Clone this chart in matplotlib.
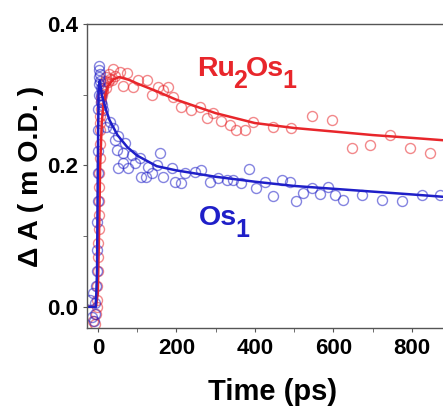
import numpy as np
import matplotlib.pyplot as plt

plt.rcParams['font.family'] = ['Liberation Sans', 'DejaVu Sans']
plt.rcParams['font.weight'] = 'bold'
plt.rcParams['axes.labelweight'] = 'bold'

# Ru2Os1 transient absorption (time in ps, dA in mOD)
ru_t = [-12, -8, -5, -3, -2, -1, 0, 1, 1.5, 2, 2.5, 3, 3.5, 4, 4.5, 5, 5.5, 6,
        6.5, 7, 8, 9, 10, 12, 14, 16, 18, 20, 22, 25, 28, 32,
        36, 38, 45, 56, 64, 74, 89, 102, 125, 137, 153, 166, 179, 191, 213,
        238, 260, 277, 293, 315, 336, 353, 374, 396, 446, 493, 545, 596,
        647, 693, 744, 795, 846]
ru_v = [-0.02, -0.025, -0.01, 0.0, 0.01, 0.03, 0.05, 0.07, 0.09, 0.11, 0.13,
        0.15, 0.17, 0.19, 0.21, 0.23, 0.25, 0.26, 0.27, 0.28, 0.29, 0.295,
        0.30, 0.305, 0.31, 0.315, 0.32, 0.31, 0.325, 0.318, 0.33, 0.322,
        0.321, 0.337, 0.327, 0.332, 0.313, 0.331, 0.311, 0.321, 0.321, 0.300,
        0.311, 0.307, 0.311, 0.297, 0.283, 0.279, 0.283, 0.267, 0.274, 0.263,
        0.257, 0.250, 0.250, 0.262, 0.255, 0.253, 0.270, 0.265, 0.225, 0.229,
        0.243, 0.225, 0.218]

# Os1 transient absorption
os_t = [-20, -15, -12, -10, -8, -6, -4, -3, -2, -1, -0.5, 0, 0.5, 1, 1.5, 2,
        2.5, 3, 3.5, 4, 5, 6, 7, 8, 9, 10, 13, 22, 30, 38, 43, 48, 51, 51, 64,
        64, 69, 77, 86, 94, 107, 111, 124, 128, 137, 150, 158, 166, 188, 196,
        213, 222, 247, 264, 285, 306, 328, 345, 366, 386, 404, 425, 447, 468,
        489, 506, 523, 545, 566, 587, 604, 625, 672, 723, 774, 825, 871]
os_v = [0.01, -0.015, 0.02, -0.02, 0.005, -0.01, 0.03, 0.05, 0.08, 0.12, 0.15,
        0.19, 0.22, 0.25, 0.28, 0.30, 0.315, 0.325, 0.335, 0.34, 0.33, 0.32,
        0.31, 0.30, 0.29, 0.285, 0.279, 0.255, 0.262, 0.253, 0.236, 0.222,
        0.241, 0.196, 0.218, 0.204, 0.232, 0.196, 0.215, 0.204, 0.211, 0.184,
        0.184, 0.198, 0.189, 0.201, 0.218, 0.184, 0.196, 0.177, 0.175, 0.189,
        0.191, 0.194, 0.177, 0.182, 0.180, 0.180, 0.175, 0.195, 0.168, 0.177,
        0.157, 0.180, 0.177, 0.150, 0.161, 0.168, 0.160, 0.170, 0.158, 0.151,
        0.158, 0.151, 0.149, 0.158, 0.158]

# Fitted kinetics
ru_fit_t = [-30, -5, 0, 3, 6, 10, 15, 25, 40, 55, 80, 100, 150, 200, 300, 400,
            500, 600, 700, 800, 920]
ru_fit_v = [0, 0, 0.02, 0.10, 0.20, 0.26, 0.29, 0.312, 0.322, 0.325, 0.321,
            0.316, 0.305, 0.293, 0.274, 0.260, 0.253, 0.248, 0.243, 0.239, 0.234]
os_fit_t = [-30, -5, -2, 0, 2, 5, 10, 20, 30, 50, 75, 100, 150, 200, 300, 400,
            500, 600, 700, 800, 920]
os_fit_v = [0, 0, 0.05, 0.20, 0.31, 0.32, 0.30, 0.28, 0.264, 0.243, 0.226,
            0.214, 0.199, 0.193, 0.184, 0.177, 0.171, 0.167, 0.163, 0.159, 0.154]

red = '#e8262b'
blue = '#1f1fc8'


def formula(ax, x, y, parts, color, size=20.5, sub_size=18):
    # chain text pieces; (text, is_subscript)
    first = ax.text(x, y, parts[0][0], color=color, fontsize=size)
    prev = first
    for s, sub in parts[1:]:
        prev = ax.annotate(s, xy=(1, 0), xycoords=(prev, first),
                           xytext=(-1, -8 if sub else 0),
                           textcoords='offset points', va='bottom',
                           color=color, fontsize=sub_size if sub else size)
    return first


fig = plt.figure(figsize=(4.43, 4.08), dpi=100)
ax = fig.add_axes([0.196, 0.196, 0.84, 0.745])

ax.plot(ru_t, ru_v, 'o', mfc='none', mec=red, ms=7.2, mew=1.0, alpha=0.55)
ax.plot(os_t, os_v, 'o', mfc='none', mec=blue, ms=7.2, mew=1.0, alpha=0.55)
ax.plot(ru_fit_t, ru_fit_v, color=red, lw=1.8)
ax.plot(os_fit_t, os_fit_v, color=blue, lw=1.8)

formula(ax, 252, 0.327, [('Ru', False), ('2', True), ('Os', False), ('1', True)], red)
formula(ax, 257, 0.116, [('Os', False), ('1', True)], blue)

ax.set_xlim(-28, 920)
ax.set_ylim(-0.03, 0.4)
ax.set_xticks([0, 200, 400, 600, 800])
ax.set_xticks([100, 300, 500, 700], minor=True)
ax.set_yticks([0.0, 0.2, 0.4])
ax.set_yticks([0.1, 0.3], minor=True)
ax.set_yticklabels(['0.0', '0.2', '0.4'])

for s in ax.spines.values():
    s.set_color('#555555')
    s.set_linewidth(1.0)
ax.tick_params(which='both', direction='out', color='#555555', length=3,
               labelsize=16)
ax.tick_params(axis='x', pad=4)

ax.set_xlabel('Time (ps)', fontsize=21, labelpad=14)
ax.set_ylabel('\u0394 A ( m O.D. )', fontsize=20.5, labelpad=2)

fig.savefig('out.png', dpi=100)
